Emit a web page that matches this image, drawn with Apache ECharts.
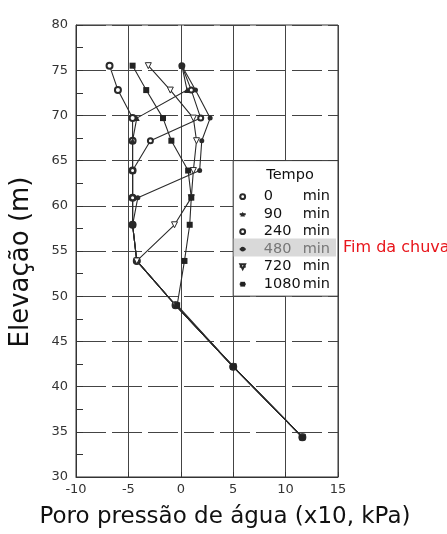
<!DOCTYPE html>
<html><head><meta charset="utf-8">
<script src="https://cdn.jsdelivr.net/npm/echarts@6/dist/echarts.min.js"></script>
<style>html,body{margin:0;padding:0;background:#fff}#c{width:447px;height:534px}</style>
</head><body><div id="c"></div>
<script>
// Elevations (m) of the measurement points
const elevations = [75.5, 72.8, 69.7, 67.2, 63.9, 60.9, 57.9, 53.9, 49.0, 42.2, 34.4];
// Pore pressure (x10 kPa) at each elevation, per time
const pressure0    = [-6.8, -6.0, -4.6, -4.6, -4.6, -4.6, -4.6, -4.2, -0.5, 5.0, 11.6];
const pressure90   = [ 0.1,  0.6, -4.2, -4.6, -4.6, -4.6, -4.6, -4.2, -0.5, 5.0, 11.6];
const pressure240  = [ 0.1,  1.0,  1.9, -2.9, -4.6, -4.6, -4.6, -4.2, -0.5, 5.0, 11.6];
const pressure480  = [ 0.1,  1.4,  2.8,  2.0,  1.8, -4.1, -4.6, -4.2, -0.5, 5.0, 11.6];
const pressure720  = [-3.1, -1.0,  1.2,  1.5,  1.2,  1.0, -0.6, -4.2, -0.5, 5.0, 11.6];
const pressure1080 = [-4.6, -3.3, -1.7, -0.9,  0.7,  1.0,  0.85, 0.35, -0.35, 5.0, 11.6];
const timeLabels = ['0', '90', '240', '480', '720', '1080'];
const legendTitle = 'Tempo';
const rainNote = 'Fim da chuva';
const xTitle = 'Poro pressão de água (x10, kPa)';
const yTitle = 'Elevação (m)';

const FONT = 'DejaVu Sans';
const INK = '#2a2a2a';
const allPressures = [pressure0, pressure90, pressure240, pressure480, pressure720, pressure1080];
const symbolSpec = [
  {symbol: 'emptyCircle', size: 6, itemStyle: {color: INK, borderWidth: 1}},
  {symbol: 'triangle', size: 6, itemStyle: {color: INK}},
  {symbol: 'emptyCircle', size: 5, itemStyle: {color: INK, borderWidth: 1}},
  {symbol: 'circle', size: 5, itemStyle: {color: INK}},
  {symbol: 'triangle', size: 6, rotate: 180, itemStyle: {color: '#fff', borderColor: INK, borderWidth: 1}},
  {symbol: 'rect', size: 6, itemStyle: {color: '#222'}}
];

const series = timeLabels.map((t, k) => ({
  name: t,
  type: 'line',
  data: elevations.map((e, i) => [allPressures[k][i], e]),
  symbol: symbolSpec[k].symbol,
  symbolSize: symbolSpec[k].size,
  symbolRotate: symbolSpec[k].rotate || 0,
  showAllSymbol: true,
  itemStyle: symbolSpec[k].itemStyle,
  lineStyle: {color: INK, width: 1.1},
  emphasis: {disabled: true},
  animation: false,
  z: 2 + k * 0.01
}));

const chart = echarts.init(document.getElementById('c'), null, {renderer: 'canvas'});
chart.setOption({
  animation: false,
  backgroundColor: '#fff',
  textStyle: {fontFamily: FONT},
  grid: {left: 76, right: 109, top: 25, bottom: 56, show: true, borderColor: '#333', borderWidth: 1, backgroundColor: 'transparent'},
  xAxis: {
    type: 'value', min: -10, max: 15, interval: 5,
    axisLine: {show: true, onZero: false, lineStyle: {color: '#333'}},
    axisTick: {show: true, inside: true, length: 5, lineStyle: {color: '#333'}},
    axisLabel: {color: '#333', fontSize: 13, fontFamily: FONT, margin: 6},
    splitLine: {show: true, lineStyle: {color: '#444', width: 1, type: 'solid'}},
    name: xTitle, nameLocation: 'middle', nameGap: 29,
    nameTextStyle: {color: '#111', fontSize: 23, fontFamily: FONT, padding: [0, 0, 0, 36]}
  },
  yAxis: {
    type: 'value', min: 30, max: 80, interval: 5,
    axisLine: {show: true, onZero: false, lineStyle: {color: '#333'}},
    axisTick: {show: true, inside: true, length: 7, lineStyle: {color: '#333'}},
    minorTick: {show: true, splitNumber: 2, length: 7, lineStyle: {color: '#333'}},
    axisLabel: {color: '#333', fontSize: 13, fontFamily: FONT, margin: 8},
    splitLine: {show: true, lineStyle: {color: '#444', width: 1, type: [30, 6]}},
    name: yTitle, nameLocation: 'middle', nameGap: 42, nameRotate: 90,
    nameTextStyle: {color: '#111', fontSize: 26, fontFamily: FONT, padding: [0, 22, 0, 0]}
  },
  legend: {
    orient: 'vertical', left: 238.7, top: 189.2, padding: 0, itemGap: 2.5,
    itemWidth: 6, itemHeight: 6, z: 6,
    selectedMode: false,
    data: timeLabels.map(t => t === '480' ? {name: t, textStyle: {color: '#777'}} : {name: t}),
    formatter: n => '{a|' + n + '}{b|min}',
    textStyle: {
      color: '#111', fontFamily: FONT, fontSize: 14.5,
      rich: {
        a: {width: 39, padding: [0, 0, 0, 13], fontSize: 14.5, fontFamily: FONT},
        b: {fontSize: 14.5, fontFamily: FONT}
      }
    }
  },
  series: series
});

// Legend box aligned to the grid cell it covers (x 5..15, y 50..65)
const p1 = chart.convertToPixel({gridIndex: 0}, [5, 65]);
const p2 = chart.convertToPixel({gridIndex: 0}, [15, 50]);
chart.setOption({
  graphic: [
    {type: 'rect', z: 3, shape: {x: p1[0], y: p1[1], width: p2[0] - p1[0], height: p2[1] - p1[1]},
     style: {fill: '#fff', stroke: '#333', lineWidth: 1}},
    {type: 'rect', z: 4, shape: {x: p1[0] + 0.5, y: 238.5, width: p2[0] - p1[0] - 2.5, height: 18},
     style: {fill: '#d9d9d9'}},
    {type: 'text', z: 5, x: 290, y: 175,
     style: {text: legendTitle, fill: '#111', font: '14.5px "' + FONT + '"', textAlign: 'center', textVerticalAlign: 'middle'}},
    {type: 'text', z: 5, x: 343, y: 248,
     style: {text: rainNote, fill: '#e8151b', font: '16px "' + FONT + '"', textAlign: 'left', textVerticalAlign: 'middle'}}
  ]
});
</script></body></html>
